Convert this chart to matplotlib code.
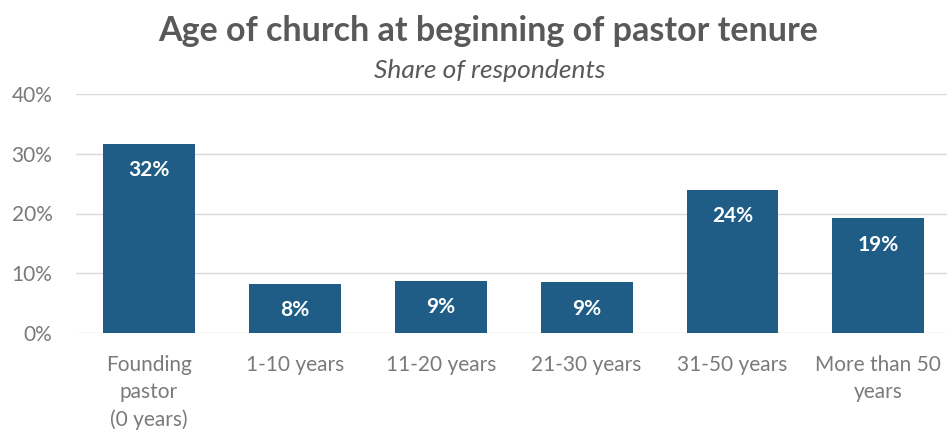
import matplotlib
matplotlib.use("Agg")
import matplotlib.pyplot as plt

categories = ["Founding\npastor\n(0 years)", "1-10 years", "11-20 years", "21-30 years", "31-50 years", "More than 50\nyears"]
values = [31.6, 8.2, 8.7, 8.5, 23.9, 19.2]
labels = ["32%", "8%", "9%", "9%", "24%", "19%"]
yticks = [0, 10, 20, 30, 40]
ytick_labels = ["0%", "10%", "20%", "30%", "40%"]

bar_color = "#1f5d86"
text_gray = "#7a7a7a"
title_gray = "#595959"

plt.rcParams['font.family'] = ['Lato', 'DejaVu Sans']

fig = plt.figure(figsize=(9.47, 4.34), dpi=100)
ax = fig.add_axes([76/947, 1-333/434, (947-76)/947, (333-94)/434])

x = list(range(len(categories)))
ax.bar(x, values, width=0.63, color=bar_color, zorder=3)
for xi, v, lab in zip(x, values, labels):
    ax.text(xi, v - 4.4, lab, ha="center", va="center", color="white",
            fontsize=15, fontweight="bold", zorder=4)

ax.set_xlim(-0.5, 5.47)
ax.set_ylim(0, 40)
ax.set_yticks(yticks)
ax.set_yticklabels(ytick_labels)
ax.set_xticks(x)
ax.set_xticklabels(categories, linespacing=1.45)
ax.yaxis.grid(True, color="#d9d9d9", linewidth=1, zorder=0)
ax.set_axisbelow(True)
for s in ax.spines.values():
    s.set_visible(False)
ax.tick_params(axis="both", length=0, colors=text_gray, labelsize=15)
ax.tick_params(axis="y", pad=17)
ax.tick_params(axis="x", pad=16)

fig.text(0.515, 1-31/434, "Age of church at beginning of pastor tenure", ha="center", va="center",
         fontsize=24.5, fontweight="bold", color=title_gray)
fig.text(0.517, 1-71/434, "Share of respondents", ha="center", va="center",
         fontsize=19, fontstyle="italic", color=title_gray)

fig.savefig("out.png", dpi=100)
